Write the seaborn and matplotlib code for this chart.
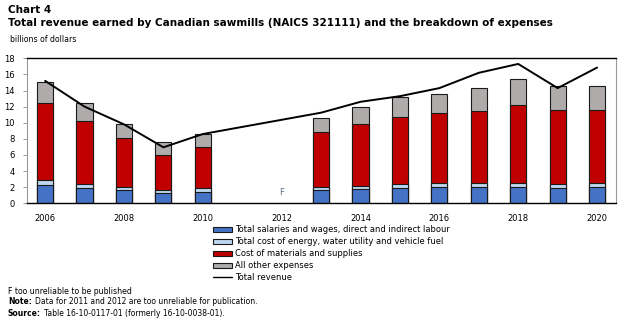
import matplotlib
matplotlib.use("Agg")
import matplotlib.pyplot as plt
from matplotlib.patches import Patch
from matplotlib.lines import Line2D
import numpy as np
import pandas as pd
import seaborn as sns

# Sawmill revenue and expense breakdown, billions of dollars (2011 and 2012 suppressed)
years = [2006, 2007, 2008, 2009, 2010, 2013, 2014, 2015, 2016, 2017, 2018, 2019, 2020]
salaries = [2.28, 1.90, 1.65, 1.24, 1.37, 1.63, 1.74, 1.94, 2.03, 2.03, 2.03, 1.90, 2.03]
energy = [0.62, 0.46, 0.34, 0.41, 0.49, 0.36, 0.45, 0.42, 0.45, 0.45, 0.45, 0.46, 0.45]
materials = [9.60, 7.84, 6.08, 4.35, 5.17, 6.86, 7.61, 8.31, 8.69, 8.98, 9.77, 9.18, 9.10]
other = [2.56, 2.20, 1.82, 1.57, 1.57, 1.80, 2.10, 2.49, 2.36, 2.90, 3.13, 3.08, 2.94]
revenue = [15.2, 12.0, 9.8, 6.95, 8.6, 11.25, 12.6, 13.3, 14.3, 16.2, 17.3, 14.3, 16.85]

series_labels = [
    "Total salaries and wages, direct and indirect labour",
    "Total cost of energy, water utility and vehicle fuel",
    "Cost of materials and supplies",
    "All other expenses",
]
series_colors = ["#4472C4", "#BDD7EE", "#C00000", "#AFABAB"]
x_ticks = [2006, 2008, 2010, 2012, 2014, 2016, 2018, 2020]
y_ticks = [0, 2, 4, 6, 8, 10, 12, 14, 16, 18]

df = pd.DataFrame({
    "year": years,
    "salaries": salaries,
    "energy": energy,
    "materials": materials,
    "other": other,
    "revenue": revenue,
})
components = ["salaries", "energy", "materials", "other"]
cum = df[components].cumsum(axis=1)

sns.set_theme(style="white")
plt.rcParams["font.family"] = ["DejaVu Sans"]
plt.rcParams["text.color"] = "black"

fig = plt.figure(figsize=(6.24, 3.22), dpi=100)
ax = fig.add_axes([27 / 624, 1 - 203.3 / 322, (616 - 27) / 624, (203.3 - 58.3) / 322])

# Stacked bars: draw the cumulative totals from the top segment down
for comp, color in reversed(list(zip(components, series_colors))):
    sns.barplot(
        x=df["year"], y=cum[comp], native_scale=True, width=0.41,
        color=color, edgecolor="#1a1a1a", linewidth=0.8,
        saturation=1, ax=ax, errorbar=None,
    )

sns.lineplot(x=df["year"], y=df["revenue"], color="black", linewidth=1.4, ax=ax)

ax.text(2012, 1.4, "F", ha="center", va="center", fontsize=6, color="#5a6a7a")

ax.set_xlim(2005.54, 2020.48)
ax.set_ylim(0, 18)
ax.set_xticks(x_ticks)
ax.set_xticklabels([str(t) for t in x_ticks], fontsize=6, color="black")
ax.set_yticks(y_ticks)
ax.set_yticklabels([str(t) for t in y_ticks], fontsize=6, color="black")
ax.tick_params(axis="y", which="both", left=True, length=3, width=0.6, color="#888888", pad=6)
ax.tick_params(axis="x", bottom=False, pad=1.5)
ax.set_xlabel("")
ax.set_ylabel("")

for side in ["top", "bottom"]:
    ax.spines[side].set_color("black")
    ax.spines[side].set_linewidth(1.0)
for side in ["left", "right"]:
    ax.spines[side].set_color("#999999")
    ax.spines[side].set_linewidth(0.8)

handles = [Patch(facecolor=c, edgecolor="#1a1a1a", linewidth=0.8, label=l)
           for c, l in zip(series_colors, series_labels)]
handles.append(Line2D([0], [0], color="black", linewidth=1.0, label="Total revenue"))
fig.legend(
    handles=handles, loc="upper left", bbox_to_anchor=(213 / 624, 1 - 225 / 322),
    frameon=False, fontsize=6, handlelength=2.3, handleheight=0.55,
    handletextpad=0.3, labelspacing=0.36, borderpad=0, borderaxespad=0,
)

fig.text(8 / 624, 1 - 10 / 322, "Chart 4", fontsize=7.5, fontweight="bold", va="center", ha="left")
fig.text(8 / 624, 1 - 23 / 322,
         "Total revenue earned by Canadian sawmills (NAICS 321111) and the breakdown of expenses",
         fontsize=7.5, fontweight="bold", va="center", ha="left")
fig.text(10 / 624, 1 - 40 / 322, "billions of dollars", fontsize=5.6, va="center", ha="left")

fig.text(8 / 624, 1 - 292 / 322, "F too unreliable to be published", fontsize=5.6, va="center", ha="left")

renderer = fig.canvas.get_renderer()


def mixed_line(y_px, bold, rest):
    t = fig.text(8 / 624, 1 - y_px / 322, bold, fontsize=5.5, fontweight="bold", va="center", ha="left")
    bb = t.get_window_extent(renderer=renderer)
    fig.text((bb.x1 + 3) / 624, 1 - y_px / 322, rest, fontsize=5.5, va="center", ha="left")


mixed_line(302, "Note:", "Data for 2011 and 2012 are too unreliable for publication.")
mixed_line(313, "Source:", "Table 16-10-0117-01 (formerly 16-10-0038-01).")

fig.savefig("out.png", dpi=100)
